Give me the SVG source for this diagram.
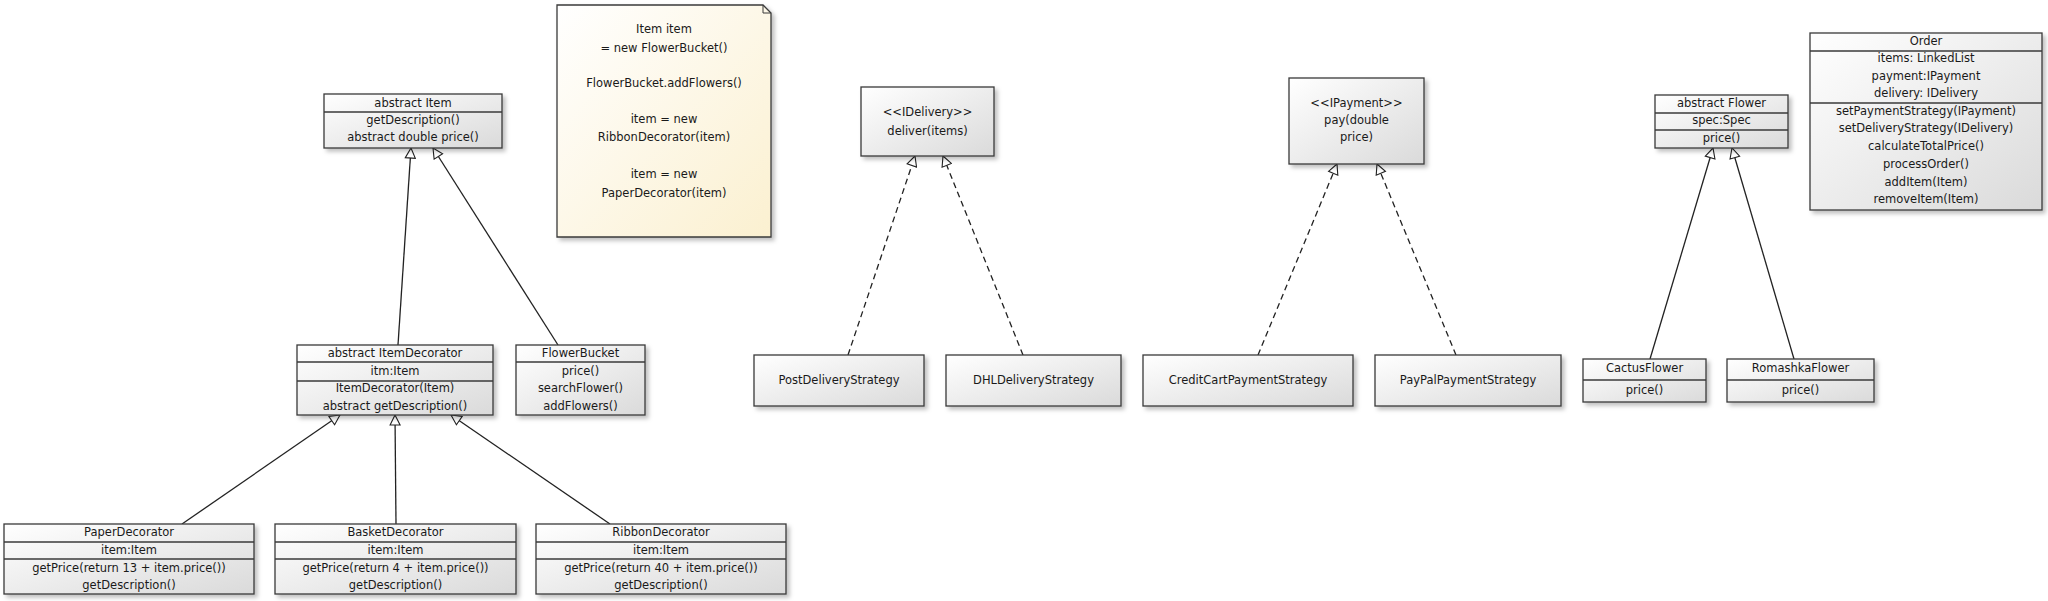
<svg xmlns="http://www.w3.org/2000/svg" width="2048" height="601" viewBox="0 0 2048 601">
<defs>
<linearGradient id="g" x1="0" y1="0" x2="1" y2="1">
<stop offset="0" stop-color="#ffffff"/>
<stop offset="1" stop-color="#dadada"/>
</linearGradient>
<linearGradient id="gn" x1="0" y1="0" x2="1" y2="1">
<stop offset="0" stop-color="#ffffff"/>
<stop offset="1" stop-color="#fbf0d0"/>
</linearGradient>
<filter id="sh" x="-10%" y="-10%" width="130%" height="130%">
<feDropShadow dx="3" dy="3" stdDeviation="2" flood-color="#000" flood-opacity="0.25"/>
</filter>
<marker id="tri" viewBox="0 0 12 12" refX="11" refY="6" markerWidth="12" markerHeight="12" markerUnits="userSpaceOnUse" orient="auto">
<path d="M1,1 L11,6 L1,11 z" fill="#ffffff" stroke="#222" stroke-width="1.1"/>
</marker>
</defs>
<style>
.box{fill:url(#g);stroke:#3a3a3a;stroke-width:1.3;filter:url(#sh)}
.note{fill:url(#gn);stroke:#3a3a3a;stroke-width:1.3;filter:url(#sh)}
.sep{stroke:#3a3a3a;stroke-width:1.3}
.t{font-family:"DejaVu Sans","Liberation Sans",sans-serif;font-size:11.5px;text-anchor:middle;fill:#1a1a1a}
.c{fill:none;stroke:#222;stroke-width:1.3;marker-end:url(#tri)}
.d{stroke-dasharray:6,4}
</style>
<rect width="2048" height="601" fill="#ffffff"/>

<g id="connectors">
<line class="c" x1="398" y1="345" x2="411" y2="148"/>
<line class="c" x1="558" y1="345" x2="433" y2="148"/>
<line class="c" x1="182" y1="524" x2="340" y2="415"/>
<line class="c" x1="396" y1="524" x2="395" y2="415"/>
<line class="c" x1="610" y1="524" x2="451" y2="415"/>
<line class="c d" x1="848" y1="355" x2="915" y2="156"/>
<line class="c d" x1="1023" y1="355" x2="943" y2="156"/>
<line class="c d" x1="1258" y1="355" x2="1337" y2="164"/>
<line class="c d" x1="1456" y1="355" x2="1377" y2="164"/>
<line class="c" x1="1650" y1="359" x2="1713" y2="148"/>
<line class="c" x1="1794" y1="359" x2="1732" y2="148"/>
</g>

<g id="note">
<path class="note" d="M557,5 L763,5 L771,13 L771,237 L557,237 z"/>
<path d="M763,5 L763,13 L771,13" fill="none" stroke="#3a3a3a" stroke-width="1"/>
<text class="t" x="664" y="33">Item item</text>
<text class="t" x="664" y="52">= new FlowerBucket()</text>
<text class="t" x="664" y="87">FlowerBucket.addFlowers()</text>
<text class="t" x="664" y="123">item = new</text>
<text class="t" x="664" y="141">RibbonDecorator(item)</text>
<text class="t" x="664" y="178">item = new</text>
<text class="t" x="664" y="197">PaperDecorator(item)</text>
</g>

<g id="abstractItem">
<rect class="box" x="324" y="94" width="178" height="54"/>
<line class="sep" x1="324" y1="112" x2="502" y2="112"/>
<text class="t" x="413" y="106.5">abstract Item</text>
<text class="t" x="413" y="123.5">getDescription()</text>
<text class="t" x="413" y="141">abstract double price()</text>
</g>

<g id="itemDecorator">
<rect class="box" x="297" y="345" width="196" height="70"/>
<line class="sep" x1="297" y1="362" x2="493" y2="362"/>
<line class="sep" x1="297" y1="381" x2="493" y2="381"/>
<text class="t" x="395" y="357">abstract ItemDecorator</text>
<text class="t" x="395" y="375">itm:Item</text>
<text class="t" x="395" y="392">ItemDecorator(Item)</text>
<text class="t" x="395" y="410">abstract getDescription()</text>
</g>

<g id="flowerBucket">
<rect class="box" x="516" y="345" width="129" height="70"/>
<line class="sep" x1="516" y1="362" x2="645" y2="362"/>
<text class="t" x="580.5" y="357">FlowerBucket</text>
<text class="t" x="580.5" y="375">price()</text>
<text class="t" x="580.5" y="392">searchFlower()</text>
<text class="t" x="580.5" y="410">addFlowers()</text>
</g>

<g id="paperDecorator">
<rect class="box" x="4" y="524" width="250" height="70"/>
<line class="sep" x1="4" y1="542" x2="254" y2="542"/>
<line class="sep" x1="4" y1="559" x2="254" y2="559"/>
<text class="t" x="129" y="536">PaperDecorator</text>
<text class="t" x="129" y="554">item:Item</text>
<text class="t" x="129" y="572">getPrice(return 13 + item.price())</text>
<text class="t" x="129" y="589">getDescription()</text>
</g>

<g id="basketDecorator">
<rect class="box" x="275" y="524" width="241" height="70"/>
<line class="sep" x1="275" y1="542" x2="516" y2="542"/>
<line class="sep" x1="275" y1="559" x2="516" y2="559"/>
<text class="t" x="395.5" y="536">BasketDecorator</text>
<text class="t" x="395.5" y="554">item:Item</text>
<text class="t" x="395.5" y="572">getPrice(return 4 + item.price())</text>
<text class="t" x="395.5" y="589">getDescription()</text>
</g>

<g id="ribbonDecorator">
<rect class="box" x="536" y="524" width="250" height="70"/>
<line class="sep" x1="536" y1="542" x2="786" y2="542"/>
<line class="sep" x1="536" y1="559" x2="786" y2="559"/>
<text class="t" x="661" y="536">RibbonDecorator</text>
<text class="t" x="661" y="554">item:Item</text>
<text class="t" x="661" y="572">getPrice(return 40 + item.price())</text>
<text class="t" x="661" y="589">getDescription()</text>
</g>

<g id="iDelivery">
<rect class="box" x="861" y="87" width="133" height="69"/>
<text class="t" x="927.5" y="116">&lt;&lt;IDelivery&gt;&gt;</text>
<text class="t" x="927.5" y="135">deliver(items)</text>
</g>

<g id="postDeliveryStrategy">
<rect class="box" x="754" y="355" width="170" height="51"/>
<text class="t" x="839" y="384">PostDeliveryStrategy</text>
</g>

<g id="dhlDeliveryStrategy">
<rect class="box" x="946" y="355" width="175" height="51"/>
<text class="t" x="1033.5" y="384">DHLDeliveryStrategy</text>
</g>

<g id="iPayment">
<rect class="box" x="1289" y="78" width="135" height="86"/>
<text class="t" x="1356.5" y="107">&lt;&lt;IPayment&gt;&gt;</text>
<text class="t" x="1356.5" y="124">pay(double</text>
<text class="t" x="1356.5" y="141">price)</text>
</g>

<g id="creditCartPaymentStrategy">
<rect class="box" x="1143" y="355" width="210" height="51"/>
<text class="t" x="1248" y="384">CreditCartPaymentStrategy</text>
</g>

<g id="payPalPaymentStrategy">
<rect class="box" x="1375" y="355" width="186" height="51"/>
<text class="t" x="1468" y="384">PayPalPaymentStrategy</text>
</g>

<g id="abstractFlower">
<rect class="box" x="1655" y="95" width="133" height="53"/>
<line class="sep" x1="1655" y1="113" x2="1788" y2="113"/>
<line class="sep" x1="1655" y1="130" x2="1788" y2="130"/>
<text class="t" x="1721.5" y="107">abstract Flower</text>
<text class="t" x="1721.5" y="124">spec:Spec</text>
<text class="t" x="1721.5" y="142">price()</text>
</g>

<g id="cactusFlower">
<rect class="box" x="1583" y="359" width="123" height="43"/>
<line class="sep" x1="1583" y1="380" x2="1706" y2="380"/>
<text class="t" x="1644.5" y="372">CactusFlower</text>
<text class="t" x="1644.5" y="394">price()</text>
</g>

<g id="romashkaFlower">
<rect class="box" x="1727" y="359" width="147" height="43"/>
<line class="sep" x1="1727" y1="380" x2="1874" y2="380"/>
<text class="t" x="1800.5" y="372">RomashkaFlower</text>
<text class="t" x="1800.5" y="394">price()</text>
</g>

<g id="order">
<rect class="box" x="1810" y="33" width="232" height="177"/>
<line class="sep" x1="1810" y1="51" x2="2042" y2="51"/>
<line class="sep" x1="1810" y1="103" x2="2042" y2="103"/>
<text class="t" x="1926" y="45">Order</text>
<text class="t" x="1926" y="62">items: LinkedList</text>
<text class="t" x="1926" y="80">payment:IPayment</text>
<text class="t" x="1926" y="97">delivery: IDelivery</text>
<text class="t" x="1926" y="114.5">setPaymentStrategy(IPayment)</text>
<text class="t" x="1926" y="132.3">setDeliveryStrategy(IDelivery)</text>
<text class="t" x="1926" y="150">calculateTotalPrice()</text>
<text class="t" x="1926" y="167.8">processOrder()</text>
<text class="t" x="1926" y="185.6">addItem(Item)</text>
<text class="t" x="1926" y="203.4">removeItem(Item)</text>
</g>
</svg>
